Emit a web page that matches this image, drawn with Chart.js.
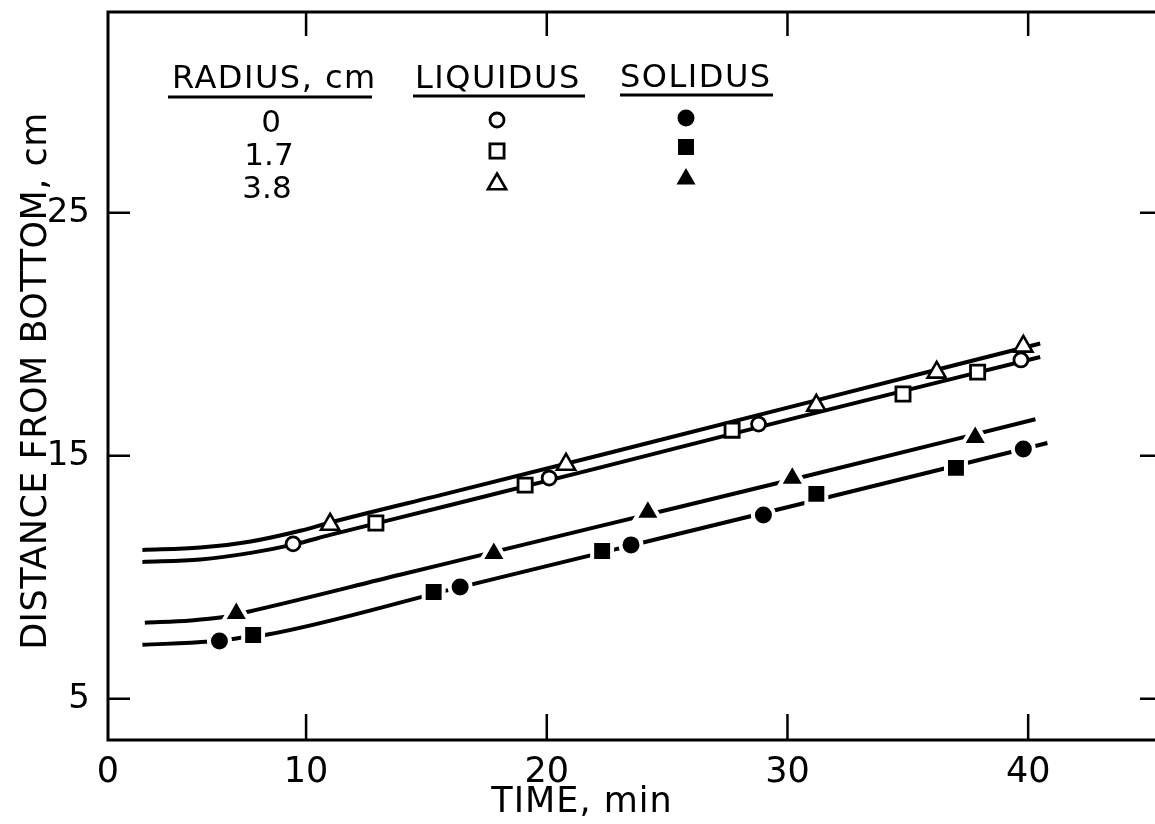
<!DOCTYPE html>
<html lang="en">
<head>
<meta charset="UTF-8">
<title>Liquidus and solidus position vs time</title>
<style>
  html, body { margin: 0; padding: 0; background: #fff; overflow: hidden; }
  #wrap { width: 1155px; height: 824px; position: relative; }
  #chart { display: block; }
</style>
</head>
<body>
<div id="wrap"><canvas id="chart"></canvas></div>
<script src="https://cdn.jsdelivr.net/npm/chart.js"></script>
<script>
// axis range (the drawn axis starts a little right of x = 0)
const X_MIN = 1.77, X_MAX = 45.27;
const Y_MIN = 3.3, Y_MAX = 33.26;
const xTicks = [0, 10, 20, 30, 40];
const yTicks = [5, 15, 25];

// fitted curves
const liqUpperX = [3.2, 5.6, 7.7, 9.8, 11.0, 16.0, 22.2, 30.5, 40.5];
const liqUpperY = [11.12, 11.22, 11.47, 11.92, 12.25, 13.48, 15.02, 17.1, 19.62];
const liqLowerX = [3.2, 5.6, 7.7, 9.5, 11.0, 16.0, 22.2, 30.5, 40.5];
const liqLowerY = [10.63, 10.73, 11.0, 11.35, 11.74, 12.97, 14.51, 16.6, 19.06];
const solUpperX = [3.3, 5.2, 6.5, 7.6, 13.9, 22.2, 30.5, 40.3];
const solUpperY = [8.13, 8.22, 8.35, 8.58, 10.1, 12.1, 14.09, 16.5];
const solLowerX = [3.2, 6.0, 7.1, 8.4, 16.0, 22.2, 30.5, 40.8];
const solLowerY = [7.22, 7.35, 7.48, 7.64, 9.49, 10.99, 13.0, 15.52];

// measured points: liquidus (open) and solidus (filled) for radius 0, 1.7, 3.8 cm
const liq0X = [9.46, 20.1, 28.8, 39.7];
const liq0Y = [11.37, 14.08, 16.3, 18.94];
const liq17X = [12.9, 19.1, 27.7, 34.8, 37.9];
const liq17Y = [12.23, 13.79, 16.05, 17.54, 18.44];
const liq38X = [11.0, 20.8, 31.2, 36.2, 39.8];
const liq38Y = [12.17, 14.64, 17.07, 18.43, 19.5];
const sol0X = [6.4, 16.4, 23.5, 29.0, 39.8];
const sol0Y = [7.37, 9.6, 11.33, 12.56, 15.28];
const sol17X = [7.8, 15.3, 22.3, 31.2, 37.0];
const sol17Y = [7.62, 9.39, 11.08, 13.43, 14.5];
const sol38X = [7.1, 17.8, 24.2, 30.2, 37.8];
const sol38Y = [8.51, 10.98, 12.67, 14.07, 15.75];

const radiusLabels = ['0', '1.7', '3.8'];

const FONT = '"DejaVu Sans", "Liberation Sans", Arial, sans-serif';

function pts(xs, ys) { return xs.map((x, i) => ({ x: x, y: ys[i] })); }

// marker styles
const openCircle = { pointStyle: 'circle', radius: 7, borderWidth: 2.8 };
const openSquare = { pointStyle: 'rect', radius: 10, borderWidth: 2.8 };
const openTri = { pointStyle: 'triangle', radius: 10.5, borderWidth: 2.6 };
// filled markers get a white rim so the curve looks broken around them
const fillCircle = { pointStyle: 'circle', radius: 10.5, borderWidth: 4 };
const fillSquare = { pointStyle: 'rect', radius: 14.1, borderWidth: 4 };
const fillTri = { pointStyle: 'triangle', radius: 15, borderWidth: 4 };

function curve(xs, ys) {
    return {
        type: 'line', data: pts(xs, ys), borderColor: '#000', borderWidth: 4,
        pointRadius: 0, cubicInterpolationMode: 'monotone', fill: false, order: 2
    };
}
function markers(xs, ys, st, filled) {
    return {
        type: 'scatter', data: pts(xs, ys), showLine: false,
        pointStyle: st.pointStyle, pointRadius: st.radius, pointBorderWidth: st.borderWidth,
        pointBackgroundColor: filled ? '#000' : '#fff',
        pointBorderColor: filled ? '#fff' : '#000', order: 1
    };
}

function point(ctx, st, filled, x, y) {
    ctx.save();
    ctx.fillStyle = filled ? '#000' : '#fff';
    ctx.strokeStyle = filled ? '#fff' : '#000';
    ctx.lineWidth = st.borderWidth;
    Chart.helpers.drawPoint(ctx, { pointStyle: st.pointStyle, radius: st.radius, rotation: 0, borderWidth: st.borderWidth }, x, y);
    ctx.restore();
}

const framePlugin = {
    id: 'frame',
    afterDraw(chart) {
        const ctx = chart.ctx;
        const a = chart.chartArea;
        const xs = chart.scales.x, ys = chart.scales.y;
        ctx.save();
        ctx.strokeStyle = '#000';
        ctx.lineWidth = 3;
        ctx.lineCap = 'square';
        ctx.beginPath();
        ctx.moveTo(a.right, a.top);
        ctx.lineTo(a.left, a.top);
        ctx.lineTo(a.left, a.bottom);
        ctx.lineTo(a.right, a.bottom);
        ctx.stroke();
        // inward ticks
        ctx.lineWidth = 2.5;
        ctx.lineCap = 'butt';
        ctx.beginPath();
        xTicks.forEach(v => {
            if (v <= X_MIN) return;
            const px = xs.getPixelForValue(v);
            ctx.moveTo(px, a.bottom); ctx.lineTo(px, a.bottom - 26);
            ctx.moveTo(px, a.top); ctx.lineTo(px, a.top + 24);
        });
        yTicks.forEach(v => {
            const py = ys.getPixelForValue(v);
            ctx.moveTo(a.left, py); ctx.lineTo(a.left + 22, py);
            ctx.moveTo(a.right, py); ctx.lineTo(a.right - 15, py);
        });
        ctx.stroke();

        // axis titles
        ctx.fillStyle = '#000';
        ctx.font = '35px ' + FONT;
        ctx.letterSpacing = '1px';
        ctx.textAlign = 'center';
        ctx.textBaseline = 'alphabetic';
        ctx.fillText('TIME, min', 582, 812);
        ctx.letterSpacing = '0.5px';
        ctx.save();
        ctx.translate(46, 381);
        ctx.rotate(-Math.PI / 2);
        ctx.fillText('DISTANCE FROM BOTTOM, cm', 0, 0);
        ctx.restore();

        // key
        ctx.font = '32px ' + FONT;
        ctx.letterSpacing = '1.5px';
        ctx.textAlign = 'left';
        ctx.fillText('RADIUS, cm', 172, 88);
        ctx.fillText('LIQUIDUS', 415, 88);
        ctx.fillText('SOLIDUS', 620, 87);
        ctx.lineWidth = 3;
        ctx.beginPath();
        ctx.moveTo(168, 97); ctx.lineTo(372, 97);
        ctx.moveTo(413, 96); ctx.lineTo(585, 96);
        ctx.moveTo(620, 95); ctx.lineTo(773, 95);
        ctx.stroke();
        ctx.font = '31px ' + FONT;
        ctx.letterSpacing = '0px';
        ctx.textAlign = 'center';
        const rowY = [132, 165, 198];
        radiusLabels.forEach((t, i) => ctx.fillText(t, 271 - i * 2, rowY[i]));
        ctx.restore();

        point(ctx, openCircle, false, 497, 120);
        point(ctx, openSquare, false, 497, 151);
        point(ctx, openTri, false, 497, 184);
        point(ctx, fillCircle, true, 686, 118);
        point(ctx, fillSquare, true, 686, 147);
        point(ctx, fillTri, true, 686, 179);
    }
};

new Chart(document.getElementById('chart'), {
    type: 'scatter',
    data: {
        datasets: [
            curve(liqUpperX, liqUpperY),
            curve(liqLowerX, liqLowerY),
            curve(solUpperX, solUpperY),
            curve(solLowerX, solLowerY),
            markers(liq0X, liq0Y, openCircle, false),
            markers(liq17X, liq17Y, openSquare, false),
            markers(liq38X, liq38Y, openTri, false),
            markers(sol0X, sol0Y, fillCircle, true),
            markers(sol17X, sol17Y, fillSquare, true),
            markers(sol38X, sol38Y, fillTri, true)
        ]
    },
    options: {
        responsive: true,
        maintainAspectRatio: false,
        animation: false,
        events: [],
        layout: { autoPadding: false, padding: { top: 12, right: 0, bottom: 0, left: 0 } },
        plugins: { legend: { display: false }, tooltip: { enabled: false } },
        scales: {
            x: {
                type: 'linear', min: X_MIN, max: X_MAX,
                grid: { display: false }, border: { display: false },
                afterBuildTicks: s => { s.ticks = xTicks.map(v => ({ value: Math.max(v, X_MIN) })); },
                afterFit: s => { s.height = 84; s.paddingLeft = 0; s.paddingRight = 0; },
                ticks: {
                    callback: (v, i) => String(xTicks[i]),
                    font: { family: FONT, size: 35 }, color: '#000',
                    padding: 4, maxRotation: 0, autoSkip: false
                }
            },
            y: {
                type: 'linear', min: Y_MIN, max: Y_MAX,
                grid: { display: false }, border: { display: false },
                afterBuildTicks: s => { s.ticks = yTicks.map(v => ({ value: v })); },
                afterFit: s => { s.width = 108; s.paddingTop = 0; s.paddingBottom = 0; },
                ticks: {
                    callback: v => String(v),
                    font: { family: FONT, size: 34 }, color: '#000',
                    padding: 10, autoSkip: false
                }
            }
        }
    },
    plugins: [framePlugin]
});
</script>
</body>
</html>
